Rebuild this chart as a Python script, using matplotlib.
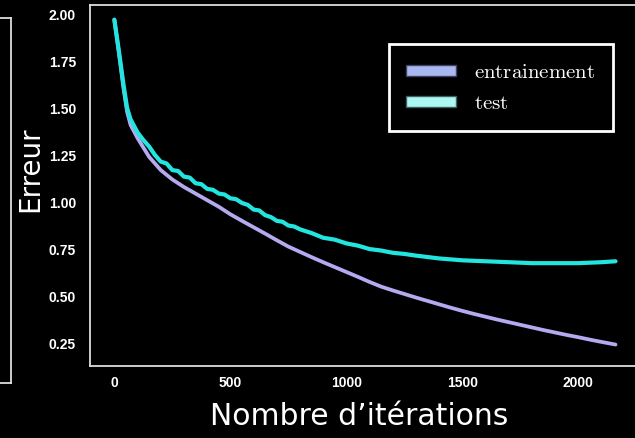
import numpy as np
import matplotlib
matplotlib.use("Agg")
import matplotlib.pyplot as plt
from matplotlib.patches import Patch

plt.rcParams['mathtext.fontset'] = 'cm'

# valeurs (erreur vs iterations)
iter_train = [0, 20, 40, 55, 70, 100, 150, 200, 250, 300, 350, 400, 450, 500, 550,
              600, 650, 700, 750, 800, 850, 900, 950, 1000, 1050, 1100, 1150, 1200,
              1250, 1300, 1350, 1400, 1450, 1500, 1550, 1600, 1650, 1700, 1750, 1800,
              1850, 1900, 1950, 2000, 2050, 2100, 2160]
err_train = [1.97, 1.79, 1.60, 1.48, 1.41, 1.34, 1.24, 1.17, 1.12, 1.08, 1.045, 1.01,
             0.975, 0.935, 0.90, 0.866, 0.832, 0.797, 0.763, 0.735, 0.707, 0.680, 0.654,
             0.628, 0.602, 0.575, 0.550, 0.530, 0.511, 0.492, 0.474, 0.456, 0.438, 0.421,
             0.405, 0.390, 0.375, 0.361, 0.347, 0.333, 0.319, 0.306, 0.293, 0.281, 0.268,
             0.256, 0.242]

iter_test = [0, 20, 40, 55, 70, 100, 125, 150, 175, 200, 225, 250, 275, 300, 325, 350,
             375, 400, 425, 450, 475, 500, 525, 550, 575, 600, 625, 650, 675, 700, 725,
             750, 775, 800, 850, 900, 950, 1000, 1050, 1100, 1150, 1200, 1250, 1300,
             1400, 1500, 1600, 1700, 1800, 1900, 2000, 2100, 2160]
err_test = [1.97, 1.80, 1.62, 1.50, 1.44, 1.37, 1.33, 1.295, 1.25, 1.215, 1.205, 1.17,
            1.165, 1.135, 1.13, 1.10, 1.095, 1.07, 1.065, 1.045, 1.04, 1.02, 1.015, 0.995,
            0.985, 0.96, 0.955, 0.93, 0.92, 0.90, 0.895, 0.875, 0.87, 0.855, 0.835, 0.81,
            0.80, 0.78, 0.768, 0.75, 0.742, 0.73, 0.724, 0.715, 0.70, 0.69, 0.685, 0.68,
            0.675, 0.675, 0.675, 0.68, 0.685]

labels = [r'$\mathrm{entrainement}$', r'$\mathrm{test}$']

fig = plt.figure(figsize=(6.35, 4.38), dpi=100, facecolor='black')

# bord de la figure voisine (coupee a gauche)
ax0 = fig.add_axes([-0.5, 0.1256, 0.5173, 0.833])
ax0.set_facecolor('black')
ax0.set_xticks([])
ax0.set_yticks([])
for s in ax0.spines.values():
    s.set_color('#dddddd')
    s.set_linewidth(1.3)

ax = fig.add_axes([0.1417, 0.1644, 0.866, 0.8242])
ax.set_facecolor('black')
ax.plot(iter_train, err_train, color='#b4aaf0', lw=2.7, solid_capstyle='round')
ax.plot(iter_test, err_test, color='#22e5e0', lw=3.0, solid_capstyle='round')

ax.set_xlim(-105, 2265)
ax.set_ylim(0.128, 2.048)
ax.set_xticks([0, 500, 1000, 1500, 2000])
ax.set_yticks([0.25, 0.50, 0.75, 1.00, 1.25, 1.50, 1.75, 2.00])
ax.set_yticklabels(['%.2f' % v for v in ax.get_yticks()])
ax.tick_params(length=0, colors='white', labelsize=10, pad=10)
ax.tick_params(axis='x', pad=7)
for lab in ax.get_xticklabels() + ax.get_yticklabels():
    lab.set_fontfamily('Liberation Sans')
    lab.set_fontweight('bold')
for s in ax.spines.values():
    s.set_color('#dddddd')
    s.set_linewidth(1.3)

ax.set_xlabel('Nombre d\u2019itérations', color='white', fontsize=21.5)
ax.xaxis.set_label_coords(0.489, -0.1)
ax.set_ylabel('Erreur', color='white', fontsize=20)
ax.yaxis.set_label_coords(-0.084, 0.545)

handles = [Patch(facecolor='#a9b9ef', edgecolor='#404060'),
           Patch(facecolor='#adf7f2', edgecolor='#406060')]
leg = ax.legend(handles, labels, loc='upper right', bbox_to_anchor=(0.951, 0.892),
                borderaxespad=0, fontsize=15, handlelength=2.4, handleheight=0.45,
                labelspacing=0.55, borderpad=0.85, handletextpad=0.85,
                fancybox=False, framealpha=1, facecolor='black', edgecolor='white')
leg.get_frame().set_linewidth(2)
for t in leg.get_texts():
    t.set_color('white')

fig.savefig('out.png', dpi=100, facecolor='black')
